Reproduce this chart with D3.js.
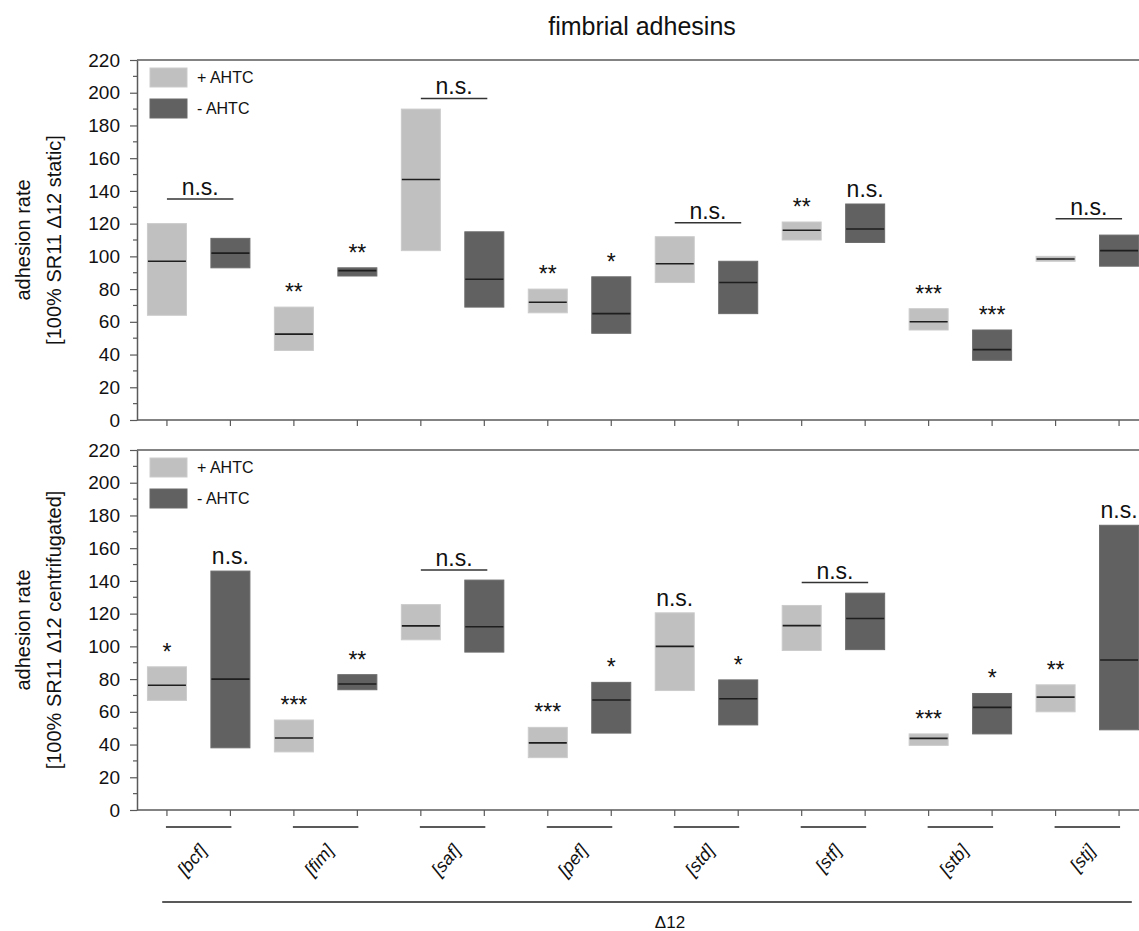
<!DOCTYPE html>
<html>
<head>
<meta charset="utf-8">
<script src="https://cdn.jsdelivr.net/npm/d3@7"></script>
<style>
  html, body { margin: 0; padding: 0; background: #fff; }
  svg { display: block; font-family: Arial, "Liberation Sans", sans-serif; }
</style>
</head>
<body>
<svg id="chart" width="1139" height="931"></svg>
<script>
// Fimbrial adhesin mutants, adhesion rate relative to SR11 Δ12 (floating bars: low / median / high)
const categories = ["bcf", "fim", "saf", "pef", "std", "stf", "stb", "stj"];
const conditions = ["+ AHTC", "- AHTC"];
const yTicks = [0, 20, 40, 60, 80, 100, 120, 140, 160, 180, 200, 220];

// static assay
const staticPlusLow     = [64, 42.5, 103.5, 65.5, 84, 110, 55, 97];
const staticPlusMedian  = [97, 52.5, 147, 72, 95.5, 116, 60, 98.4];
const staticPlusHigh    = [120, 69, 190, 80, 112, 121, 68, 100];
const staticMinusLow    = [93, 88, 69, 53, 65, 108.5, 36.5, 94];
const staticMinusMedian = [102, 91.3, 86, 65, 84, 116.7, 43, 103.5];
const staticMinusHigh   = [111, 93, 115, 87.5, 97, 132, 55, 113];
const staticPlusSig     = [null, "**", null, "**", null, "**", "***", null];
const staticMinusSig    = [null, "**", null, "*", null, "n.s.", "***", null];
const staticBracketCats   = ["bcf", "saf", "std", "stj"];
const staticBracketLevels = [135, 196.5, 120.6, 123];

// centrifugated assay
const centPlusLow     = [67, 35.5, 104, 32, 73, 97.5, 39.5, 60];
const centPlusMedian  = [76.2, 44, 112.5, 41, 100, 112.7, 43.8, 69];
const centPlusHigh    = [87.5, 55, 125.5, 50.5, 120.5, 125, 46.5, 76.5];
const centMinusLow    = [38, 73.5, 96.5, 47, 52, 98, 46.5, 49];
const centMinusMedian = [80, 77, 112, 67.2, 68, 117, 62.7, 91.7];
const centMinusHigh   = [146, 82.7, 140.5, 78, 79.5, 132.5, 71.2, 174];
const centPlusSig     = ["*", "***", null, "***", "n.s.", null, "***", "**"];
const centMinusSig    = ["n.s.", "**", null, "*", "*", null, "*", "n.s."];
const centBracketCats   = ["saf", "stf"];
const centBracketLevels = [146.7, 139];

const fills = { "+ AHTC": "#c0c0c0", "- AHTC": "#616161" };
const strokes = { "+ AHTC": "#cbcbcb", "- AHTC": "#6b6b6b" };
const axisColor = "#5a5a5a";

const svg = d3.select("#chart");
const plotLeft = 137, plotRight = 1150;

const x0 = d3.scaleBand().domain(categories).range([135.2, 1150.8]);
const x1 = d3.scalePoint().domain(conditions).range([0, x0.bandwidth()]).padding(0.5);
const cx = (cat, cond) => x0(cat) + x1(cond);
const boxW = 39;

function buildRows(low, med, high, sig, cond) {
  return categories.map((c, i) => ({ cat: c, cond, low: low[i], med: med[i], high: high[i], sig: sig[i] }));
}

function drawPanel(cfg) {
  const y = d3.scaleLinear().domain([0, 220]).range([cfg.bottom, cfg.top]);
  const g = svg.append("g");

  // frame top line
  g.append("line")
    .attr("x1", plotLeft).attr("x2", plotRight)
    .attr("y1", cfg.top).attr("y2", cfg.top)
    .attr("stroke", axisColor).attr("stroke-width", 1.5);

  // y axis with minor ticks
  const minor = d3.range(10, 220, 20);
  g.append("g").selectAll("line.minor").data(minor).join("line")
    .attr("x1", plotLeft - 4).attr("x2", plotLeft)
    .attr("y1", d => y(d)).attr("y2", d => y(d))
    .attr("stroke", axisColor).attr("stroke-width", 1.2);

  const yAxis = g.append("g").attr("transform", `translate(${plotLeft},0)`)
    .call(d3.axisLeft(y).tickValues(yTicks).tickSize(7).tickPadding(10).tickSizeOuter(0));
  yAxis.select(".domain").attr("stroke", axisColor).attr("stroke-width", 1.5);
  yAxis.selectAll(".tick line").attr("stroke", axisColor).attr("stroke-width", 1.2);
  yAxis.selectAll(".tick text").attr("font-size", 19).attr("fill", "#111")
    .attr("font-family", "Arial, 'Liberation Sans', sans-serif");

  // bottom axis line with a tick under each bar
  g.append("line")
    .attr("x1", plotLeft).attr("x2", plotRight)
    .attr("y1", cfg.bottom).attr("y2", cfg.bottom)
    .attr("stroke", axisColor).attr("stroke-width", 1.5);
  const tickPos = d3.cross(categories, conditions);
  g.append("g").selectAll("line").data(tickPos).join("line")
    .attr("x1", d => cx(d[0], d[1])).attr("x2", d => cx(d[0], d[1]))
    .attr("y1", cfg.bottom).attr("y2", cfg.bottom + 6)
    .attr("stroke", axisColor).attr("stroke-width", 1.2);

  // y title
  const yc = (cfg.top + cfg.bottom) / 2;
  g.append("text")
    .attr("transform", `translate(30,${yc}) rotate(-90)`)
    .attr("text-anchor", "middle").attr("font-size", 20).attr("fill", "#111")
    .text("adhesion rate");
  g.append("text")
    .attr("transform", `translate(61,${yc}) rotate(-90)`)
    .attr("text-anchor", "middle").attr("font-size", 20).attr("fill", "#111")
    .text(cfg.yTitle);

  // floating bars
  const rows = cfg.rows;
  g.append("g").selectAll("rect").data(rows).join("rect")
    .attr("x", d => cx(d.cat, d.cond) - boxW / 2)
    .attr("width", boxW)
    .attr("y", d => y(d.high))
    .attr("height", d => y(d.low) - y(d.high))
    .attr("fill", d => fills[d.cond])
    .attr("stroke", d => strokes[d.cond]).attr("stroke-width", 1);

  g.append("g").selectAll("line").data(rows).join("line")
    .attr("x1", d => cx(d.cat, d.cond) - boxW / 2 + 0.5)
    .attr("x2", d => cx(d.cat, d.cond) + boxW / 2 - 0.5)
    .attr("y1", d => y(d.med)).attr("y2", d => y(d.med))
    .attr("stroke", "#1e1e1e").attr("stroke-width", 1.6);

  // significance over single bars
  g.append("g").selectAll("text").data(rows.filter(d => d.sig)).join("text")
    .attr("x", d => cx(d.cat, d.cond))
    .attr("y", d => y(d.high) - 7)
    .attr("text-anchor", "middle").attr("font-size", 23).attr("fill", "#111")
    .text(d => d.sig);

  // n.s. brackets spanning both bars of a pair
  const br = cfg.bracketCats.map((c, i) => ({ cat: c, level: cfg.bracketLevels[i] }));
  const bg = g.append("g").selectAll("g").data(br).join("g");
  bg.append("line")
    .attr("x1", d => cx(d.cat, conditions[0]))
    .attr("x2", d => cx(d.cat, conditions[1]) + 3)
    .attr("y1", d => y(d.level)).attr("y2", d => y(d.level))
    .attr("stroke", "#333").attr("stroke-width", 1.5);
  bg.append("text")
    .attr("x", d => (cx(d.cat, conditions[0]) + cx(d.cat, conditions[1]) + 3) / 2)
    .attr("y", d => y(d.level) - 4)
    .attr("text-anchor", "middle").attr("font-size", 23).attr("fill", "#111")
    .text("n.s.");

  // legend
  const lg = g.append("g").selectAll("g").data(conditions).join("g")
    .attr("transform", (d, i) => `translate(150,${cfg.top + 8 + i * 31})`);
  lg.append("rect").attr("width", 37).attr("height", 19)
    .attr("fill", d => fills[d]).attr("stroke", d => strokes[d]);
  lg.append("text").attr("x", 47).attr("y", 15)
    .attr("font-size", 16).attr("fill", "#111").text(d => d);
}

drawPanel({
  top: 60, bottom: 420,
  yTitle: "[100% SR11 \u039412 static]",
  rows: buildRows(staticPlusLow, staticPlusMedian, staticPlusHigh, staticPlusSig, conditions[0])
    .concat(buildRows(staticMinusLow, staticMinusMedian, staticMinusHigh, staticMinusSig, conditions[1])),
  bracketCats: staticBracketCats, bracketLevels: staticBracketLevels
});

drawPanel({
  top: 450, bottom: 810,
  yTitle: "[100% SR11 \u039412 centrifugated]",
  rows: buildRows(centPlusLow, centPlusMedian, centPlusHigh, centPlusSig, conditions[0])
    .concat(buildRows(centMinusLow, centMinusMedian, centMinusHigh, centMinusSig, conditions[1])),
  bracketCats: centBracketCats, bracketLevels: centBracketLevels
});

// title
svg.append("text").attr("x", 642).attr("y", 35)
  .attr("text-anchor", "middle").attr("font-size", 25).attr("fill", "#111")
  .text("fimbrial adhesins");

// category lines and gene labels below the lower panel
const catG = svg.append("g").selectAll("g").data(categories).join("g");
catG.append("line")
  .attr("x1", d => cx(d, conditions[0]) - 1)
  .attr("x2", d => cx(d, conditions[1]) + 1)
  .attr("y1", 827).attr("y2", 827)
  .attr("stroke", "#222").attr("stroke-width", 1.4);
catG.append("text")
  .attr("transform", d => `translate(${x0(d) + x0.bandwidth() / 2 + 9},851) rotate(-50)`)
  .attr("text-anchor", "end").attr("font-size", 18).attr("font-style", "italic").attr("fill", "#111")
  .text(d => `[${d}]`);

// Δ12 group line
svg.append("line")
  .attr("x1", x0(categories[0]) + 27).attr("x2", x0(categories[categories.length - 1]) + x0.bandwidth() - 19)
  .attr("y1", 902).attr("y2", 902)
  .attr("stroke", "#222").attr("stroke-width", 1.4);
svg.append("text").attr("x", 670).attr("y", 928)
  .attr("text-anchor", "middle").attr("font-size", 17).attr("fill", "#111")
  .text("\u039412");
</script>
</body>
</html>
